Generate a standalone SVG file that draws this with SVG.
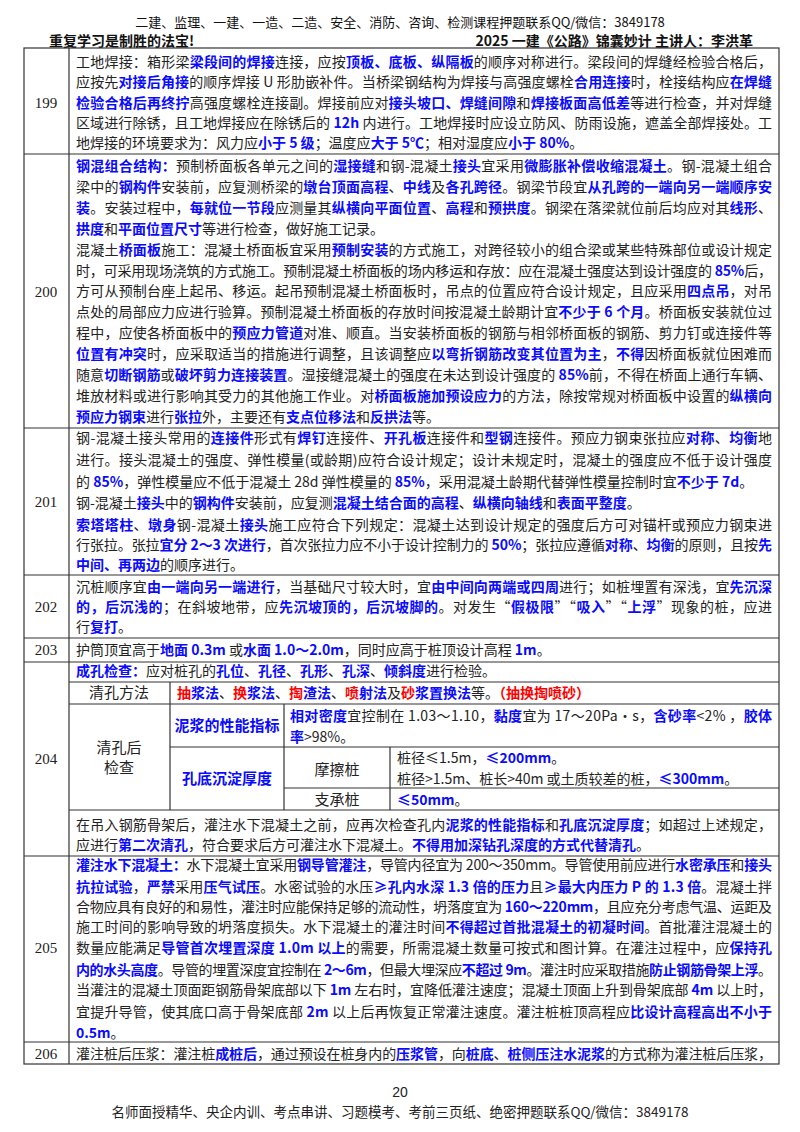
<svg xmlns="http://www.w3.org/2000/svg" width="800" height="1132" viewBox="0 0 800 1132">
<style>
text{font-family:"Noto Sans CJK SC","Liberation Serif",serif;font-size:14px;fill:#222}
.b{fill:#0a0aff;font-weight:bold}
.r{fill:#ff0000;font-weight:bold}
.hd{font-size:13px;fill:#111}
.hb{font-size:14px;font-weight:bold;fill:#111}
.n{font-family:"Liberation Serif",serif;font-size:15px;text-anchor:middle}
.c{text-anchor:middle;font-size:15px}
.cb{text-anchor:middle;font-size:15px;fill:#0a0aff;font-weight:bold}
line{stroke:#333;stroke-width:1.2}
</style>
<rect width="800" height="1132" fill="#fff"/>
<g id="header">
<text class="hd" x="400" y="27" text-anchor="middle">二建、监理、一建、一造、二造、安全、消防、咨询、检测课程押题联系QQ/微信：3849178</text>
<text class="hb" x="49" y="46">重复学习是制胜的法宝!</text>
<text class="hb" x="753" y="46" text-anchor="end">2025 一建《公路》锦囊妙计 主讲人：李洪革</text>
</g>
<g id="connectors">
<rect x="24" y="48" width="755" height="1016" fill="none" stroke="#333" stroke-width="1.2"/>
<line x1="69" y1="48" x2="69" y2="1064"/>
<line x1="24" y1="154" x2="779" y2="154"/>
<line x1="24" y1="428" x2="779" y2="428"/>
<line x1="24" y1="575" x2="779" y2="575"/>
<line x1="24" y1="638" x2="779" y2="638"/>
<line x1="24" y1="662" x2="779" y2="662"/>
<line x1="69" y1="682" x2="779" y2="682"/>
<line x1="69" y1="704" x2="779" y2="704"/>
<line x1="170" y1="747" x2="779" y2="747"/>
<line x1="284" y1="788" x2="779" y2="788"/>
<line x1="69" y1="810" x2="779" y2="810"/>
<line x1="24" y1="856" x2="779" y2="856"/>
<line x1="24" y1="1042" x2="779" y2="1042"/>
<line x1="170" y1="682" x2="170" y2="810"/>
<line x1="284" y1="704" x2="284" y2="810"/>
<line x1="390" y1="747" x2="390" y2="810"/>
</g>
<g id="row199">
<text class="n" x="46" y="108">199</text>
<text x="76" y="67" textLength="696" lengthAdjust="spacing">工地焊接：箱形梁<tspan class="b">梁段间的焊接</tspan>连接，应按<tspan class="b">顶板、底板、纵隔板</tspan>的顺序对称进行。梁段间的焊缝经检验合格后，</text>
<text x="76" y="87" textLength="696" lengthAdjust="spacing">应按先<tspan class="b">对接后角接</tspan>的顺序焊接 U 形肋嵌补件。当桥梁钢结构为焊接与高强度螺栓<tspan class="b">合用连接</tspan>时，栓接结构应<tspan class="b">在焊缝</tspan></text>
<text x="76" y="108" textLength="696" lengthAdjust="spacing"><tspan class="b">检验合格后再终拧</tspan>高强度螺栓连接副。焊接前应对<tspan class="b">接头坡口、焊缝间隙</tspan>和<tspan class="b">焊接板面高低差</tspan>等进行检查，并对焊缝</text>
<text x="76" y="128" textLength="696" lengthAdjust="spacing">区域进行除锈，且工地焊接应在除锈后的 <tspan class="b">12h</tspan> 内进行。工地焊接时应设立防风、防雨设施，遮盖全部焊接处。工</text>
<text x="76" y="148">地焊接的环境要求为：风力应<tspan class="b">小于 5 级</tspan>；温度应<tspan class="b">大于 5℃</tspan>；相对湿度应<tspan class="b">小于 80%</tspan>。</text>
</g>
<g id="row200">
<text class="n" x="46" y="297">200</text>
<text x="76" y="171" textLength="696" lengthAdjust="spacing"><tspan class="b">钢混组合结构：</tspan>预制桥面板各单元之间的<tspan class="b">湿接缝</tspan>和钢-混凝土<tspan class="b">接头</tspan>宜采用<tspan class="b">微膨胀补偿收缩混凝土</tspan>。钢-混凝土组合</text>
<text x="76" y="192" textLength="696" lengthAdjust="spacing">梁中的<tspan class="b">钢构件</tspan>安装前，应复测桥梁的<tspan class="b">墩台顶面高程</tspan>、<tspan class="b">中线</tspan>及<tspan class="b">各孔跨径</tspan>。钢梁节段宜<tspan class="b">从孔跨的一端向另一端顺序安</tspan></text>
<text x="76" y="213" textLength="696" lengthAdjust="spacing"><tspan class="b">装</tspan>。安装过程中，<tspan class="b">每就位一节段</tspan>应测量其<tspan class="b">纵横向平面位置</tspan>、<tspan class="b">高程</tspan>和<tspan class="b">预拱度</tspan>。钢梁在落梁就位前后均应对其<tspan class="b">线形</tspan>、</text>
<text x="76" y="234"><tspan class="b">拱度</tspan>和<tspan class="b">平面位置尺寸</tspan>等进行检查，做好施工记录。</text>
<text x="76" y="255" textLength="696" lengthAdjust="spacing">混凝土<tspan class="b">桥面板</tspan>施工：混凝土桥面板宜采用<tspan class="b">预制安装</tspan>的方式施工，对跨径较小的组合梁或某些特殊部位或设计规定</text>
<text x="76" y="276" textLength="696" lengthAdjust="spacing">时，可采用现场浇筑的方式施工。预制混凝土桥面板的场内移运和存放：应在混凝土强度达到设计强度的 <tspan class="b">85%</tspan>后，</text>
<text x="76" y="296" textLength="696" lengthAdjust="spacing">方可从预制台座上起吊、移运。起吊预制混凝土桥面板时，吊点的位置应符合设计规定，且应采用<tspan class="b">四点吊</tspan>，对吊</text>
<text x="76" y="317" textLength="696" lengthAdjust="spacing">点处的局部应力应进行验算。预制混凝土桥面板的存放时间按混凝土龄期计宜<tspan class="b">不少于 6 个月</tspan>。桥面板安装就位过</text>
<text x="76" y="338" textLength="696" lengthAdjust="spacing">程中，应使各桥面板中的<tspan class="b">预应力管道</tspan>对准、顺直。当安装桥面板的钢筋与相邻桥面板的钢筋、剪力钉或连接件等</text>
<text x="76" y="359" textLength="696" lengthAdjust="spacing"><tspan class="b">位置有冲突</tspan>时，应采取适当的措施进行调整，且该调整应<tspan class="b">以弯折钢筋改变其位置为主</tspan>，<tspan class="b">不得</tspan>因桥面板就位困难而</text>
<text x="76" y="380" textLength="696" lengthAdjust="spacing">随意<tspan class="b">切断钢筋</tspan>或<tspan class="b">破坏剪力连接装置</tspan>。湿接缝混凝土的强度在未达到设计强度的 <tspan class="b">85%</tspan>前，不得在桥面上通行车辆、</text>
<text x="76" y="401" textLength="696" lengthAdjust="spacing">堆放材料或进行影响其受力的其他施工作业。对<tspan class="b">桥面板施加预设应力</tspan>的方法，除按常规对桥面板中设置的<tspan class="b">纵横向</tspan></text>
<text x="76" y="422"><tspan class="b">预应力钢束</tspan>进行<tspan class="b">张拉</tspan>外，主要还有<tspan class="b">支点位移法</tspan>和<tspan class="b">反拱法</tspan>等。</text>
</g>
<g id="row201">
<text class="n" x="46" y="507">201</text>
<text x="76" y="443" textLength="696" lengthAdjust="spacing">钢-混凝土接头常用的<tspan class="b">连接件</tspan>形式有<tspan class="b">焊钉</tspan>连接件、<tspan class="b">开孔板</tspan>连接件和<tspan class="b">型钢</tspan>连接件。预应力钢束张拉应<tspan class="b">对称</tspan>、<tspan class="b">均衡</tspan>地</text>
<text x="76" y="465" textLength="696" lengthAdjust="spacing">进行。接头混凝土的强度、弹性模量(或龄期)应符合设计规定；设计未规定时，混凝土的强度应不低于设计强度</text>
<text x="76" y="487">的 <tspan class="b">85%</tspan>，弹性模量应不低于混凝土 28d 弹性模量的 <tspan class="b">85%</tspan>，采用混凝土龄期代替弹性模量控制时宜<tspan class="b">不少于 7d</tspan>。</text>
<text x="76" y="508">钢-混凝土<tspan class="b">接头</tspan>中的<tspan class="b">钢构件</tspan>安装前，应复测<tspan class="b">混凝土结合面的高程</tspan>、<tspan class="b">纵横向轴线</tspan>和<tspan class="b">表面平整度</tspan>。</text>
<text x="76" y="530" textLength="696" lengthAdjust="spacing"><tspan class="b">索塔塔柱</tspan>、<tspan class="b">墩身</tspan>钢-混凝土<tspan class="b">接头</tspan>施工应符合下列规定：混凝土达到设计规定的强度后方可对锚杆或预应力钢束进</text>
<text x="76" y="550" textLength="696" lengthAdjust="spacing">行张拉。张拉<tspan class="b">宜分 2～3 次进行</tspan>，首次张拉力应不小于设计控制力的 <tspan class="b">50%</tspan>；张拉应遵循<tspan class="b">对称</tspan>、<tspan class="b">均衡</tspan>的原则，且按<tspan class="b">先</tspan></text>
<text x="76" y="570"><tspan class="b">中间、再两边</tspan>的顺序进行。</text>
</g>
<g id="row202">
<text class="n" x="46" y="612">202</text>
<text x="76" y="592" textLength="696" lengthAdjust="spacing">沉桩顺序宜<tspan class="b">由一端向另一端进行</tspan>，当基础尺寸较大时，宜<tspan class="b">由中间向两端或四周</tspan>进行；如桩埋置有深浅，宜<tspan class="b">先沉深</tspan></text>
<text x="76" y="612" textLength="696" lengthAdjust="spacing"><tspan class="b">的，后沉浅的</tspan>；在斜坡地带，应<tspan class="b">先沉坡顶的，后沉坡脚的</tspan>。对发生“<tspan class="b">假极限</tspan>”“<tspan class="b">吸入</tspan>”“<tspan class="b">上浮</tspan>”现象的桩，应进</text>
<text x="76" y="632">行<tspan class="b">复打</tspan>。</text>
</g>
<g id="row203">
<text class="n" x="46" y="655">203</text>
<text x="76" y="655">护筒顶宜高于<tspan class="b">地面 0.3m</tspan> 或<tspan class="b">水面 1.0～2.0m</tspan>，同时应高于桩顶设计高程 <tspan class="b">1m</tspan>。</text>
</g>
<g id="row204">
<text class="n" x="46" y="764">204</text>
<text x="76" y="676"><tspan class="b">成孔检查：</tspan>应对桩孔的<tspan class="b">孔位</tspan>、<tspan class="b">孔径</tspan>、<tspan class="b">孔形</tspan>、<tspan class="b">孔深</tspan>、<tspan class="b">倾斜度</tspan>进行检验。</text>
<text class="c" x="119" y="698">清孔方法</text>
<text x="177" y="698"><tspan class="r">抽</tspan><tspan class="b">浆法</tspan>、<tspan class="r">换</tspan><tspan class="b">浆法</tspan>、<tspan class="r">掏</tspan><tspan class="b">渣法</tspan>、<tspan class="r">喷</tspan><tspan class="b">射法</tspan>及<tspan class="r">砂</tspan><tspan class="b">浆置换法</tspan>等。<tspan class="r">（抽换掏喷砂）</tspan></text>
<text class="cb" x="227" y="731">泥浆的性能指标</text>
<text x="290" y="721" textLength="482" lengthAdjust="spacing"><tspan class="b">相对密度</tspan>宜控制在 1.03～1.10，<tspan class="b">黏度</tspan>宜为 17～20Pa·s，<tspan class="b">含砂率</tspan>&lt;2% ，<tspan class="b">胶体</tspan></text>
<text x="290" y="742"><tspan class="b">率</tspan>&gt;98%。</text>
<text class="c" x="119" y="753">清孔后</text>
<text class="c" x="119" y="773">检查</text>
<text class="cb" x="227" y="784">孔底沉淀厚度</text>
<text class="c" x="337" y="775">摩擦桩</text>
<text x="397" y="763">桩径≤1.5m，<tspan class="b">≤200mm</tspan>。</text>
<text x="397" y="784">桩径&gt;1.5m、桩长&gt;40m 或土质较差的桩，<tspan class="b">≤300mm</tspan>。</text>
<text class="c" x="337" y="805">支承桩</text>
<text x="397" y="805"><tspan class="b">≤50mm</tspan>。</text>
<text x="76" y="830" textLength="696" lengthAdjust="spacing">在吊入钢筋骨架后，灌注水下混凝土之前，应再次检查孔内<tspan class="b">泥浆的性能指标</tspan>和<tspan class="b">孔底沉淀厚度</tspan>；如超过上述规定，</text>
<text x="76" y="850">应进行<tspan class="b">第二次清孔</tspan>，符合要求后方可灌注水下混凝土。<tspan class="b">不得用加深钻孔深度的方式代替清孔</tspan>。</text>
</g>
<g id="row205">
<text class="n" x="46" y="953">205</text>
<text x="76" y="870" textLength="696" lengthAdjust="spacing"><tspan class="b">灌注水下混凝土：</tspan>水下混凝土宜采用<tspan class="b">钢导管灌注</tspan>，导管内径宜为 200～350mm。导管使用前应进行<tspan class="b">水密承压</tspan>和<tspan class="b">接头</tspan></text>
<text x="76" y="892" textLength="696" lengthAdjust="spacing"><tspan class="b">抗拉试验</tspan>，<tspan class="b">严禁</tspan>采用<tspan class="b">压气试压</tspan>。水密试验的水压<tspan class="b">≥孔内水深 1.3 倍的压力</tspan>且<tspan class="b">≥最大内压力 P 的 1.3 倍</tspan>。混凝土拌</text>
<text x="76" y="912" textLength="696" lengthAdjust="spacing">合物应具有良好的和易性，灌注时应能保持足够的流动性，坍落度宜为 <tspan class="b">160～220mm</tspan>，且应充分考虑气温、运距及</text>
<text x="76" y="932" textLength="696" lengthAdjust="spacing">施工时间的影响导致的坍落度损失。水下混凝土的灌注时间<tspan class="b">不得超过首批混凝土的初凝时间</tspan>。首批灌注混凝土的</text>
<text x="76" y="953" textLength="696" lengthAdjust="spacing">数量应能满足<tspan class="b">导管首次埋置深度 1.0m 以上</tspan>的需要，所需混凝土数量可按式和图计算。在灌注过程中，应<tspan class="b">保持孔</tspan></text>
<text x="76" y="975" textLength="696" lengthAdjust="spacing"><tspan class="b">内的水头高度</tspan>。导管的埋置深度宜控制在 <tspan class="b">2～6m</tspan>，但最大埋深应<tspan class="b">不超过 9m</tspan>。灌注时应采取措施<tspan class="b">防止钢筋骨架上浮</tspan>。</text>
<text x="76" y="995" textLength="696" lengthAdjust="spacing">当灌注的混凝土顶面距钢筋骨架底部以下 <tspan class="b">1m</tspan> 左右时，宜降低灌注速度；混凝土顶面上升到骨架底部 <tspan class="b">4m</tspan> 以上时，</text>
<text x="76" y="1017" textLength="696" lengthAdjust="spacing">宜提升导管，使其底口高于骨架底部 <tspan class="b">2m</tspan> 以上后再恢复正常灌注速度。灌注桩桩顶高程应<tspan class="b">比设计高程高出不小于</tspan></text>
<text x="76" y="1038"><tspan class="b">0.5m</tspan>。</text>
</g>
<g id="row206">
<text class="n" x="46" y="1059">206</text>
<text x="76" y="1059" textLength="696" lengthAdjust="spacing">灌注桩后压浆：灌注桩<tspan class="b">成桩后</tspan>，通过预设在桩身内的<tspan class="b">压浆管</tspan>，向<tspan class="b">桩底</tspan>、<tspan class="b">桩侧压注水泥浆</tspan>的方式称为灌注桩后压浆，</text>
</g>
<g id="footer">
<text x="400" y="1097" text-anchor="middle" style="font-family:'Liberation Sans',sans-serif;font-size:14px">20</text>
<text x="400" y="1117" text-anchor="middle" style="font-size:13.5px">名师面授精华、央企内训、考点串讲、习题模考、考前三页纸、绝密押题联系QQ/微信：3849178</text>
</g>
</svg>
